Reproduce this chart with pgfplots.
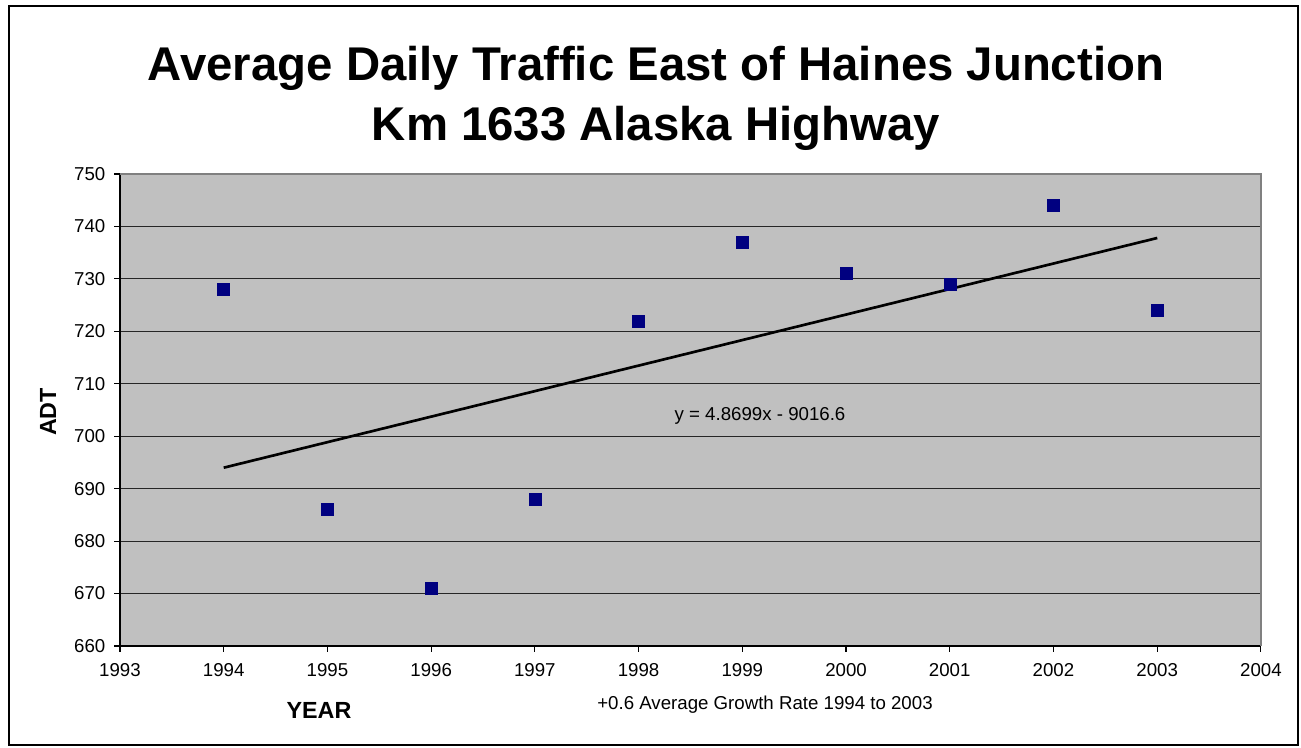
\documentclass[border=0pt]{standalone}
\usepackage{fontspec}
\setmainfont{Liberation Sans}
\usepackage{pgfplots}
\pgfplotsset{compat=1.18}
\definecolor{plotbg}{HTML}{C0C0C0}
\definecolor{marknavy}{HTML}{000080}
\begin{document}
\begin{tikzpicture}[x=0.75pt,y=0.75pt]
% page frame in pixel units (origin bottom left)
\useasboundingbox (0,0) rectangle (1301,748);
\draw[line width=1.2pt] (9,3) rectangle (1298,742);
\node[font=\fontsize{35.5}{40}\selectfont\bfseries] at (656,680) {Average Daily Traffic East of Haines Junction};
\node[font=\fontsize{35.5}{40}\selectfont\bfseries] at (656,620) {Km 1633 Alaska Highway};
\begin{axis}[
    at={(90pt,76.5pt)}, anchor=south west,
    scale only axis,
    width=855.75pt, height=354pt,
    xmin=1993, xmax=2004,
    ymin=660, ymax=750,
    xtick={1993,1994,...,2004},
    ytick={660,670,...,750},
    axis background/.style={fill=plotbg},
    axis lines*=left,
    axis line style={-, line width=1pt, black},
    tick align=outside,
    major tick length=4.5pt,
    tick style={line width=0.8pt, black},
    ymajorgrids,
    grid style={line width=0.7pt, black!85},
    /pgf/number format/1000 sep={},
    /pgf/number format/assume math mode=true,
    tick label style={font=\fontsize{14}{16}\selectfont},
    yticklabel style={xshift=-3pt},
    xticklabel style={yshift=-5pt},
    clip=false,
]
\draw[gray, line width=0.8pt] (rel axis cs:0,1) -- (rel axis cs:1,1) -- (rel axis cs:1,0);
% linear trend (Excel fit y = 4.8699x - 9016.6)
\addplot[black, line width=2pt] coordinates {(1994,694.0) (2003,737.8)};
\addplot[only marks, mark=square*, mark size=4.5pt,
         mark options={fill=marknavy, draw=marknavy}] coordinates {
    (1994,728) (1995,686) (1996,671) (1997,688) (1998,722)
    (1999,737) (2000,731) (2001,729) (2002,744) (2003,724)
};
\node[font=\fontsize{14}{16}\selectfont] at (axis cs:1999.17,703.8) {y = 4.8699x - 9016.6};
\end{axis}
\node[font=\fontsize{17.5}{20}\selectfont\bfseries, rotate=90] at (48,336) {ADT};
\node[font=\fontsize{17.5}{20}\selectfont\bfseries] at (319,38) {YEAR};
\node[font=\fontsize{14}{16}\selectfont] at (765,43) {+0.6 Average Growth Rate 1994 to 2003};
\end{tikzpicture}
\end{document}
